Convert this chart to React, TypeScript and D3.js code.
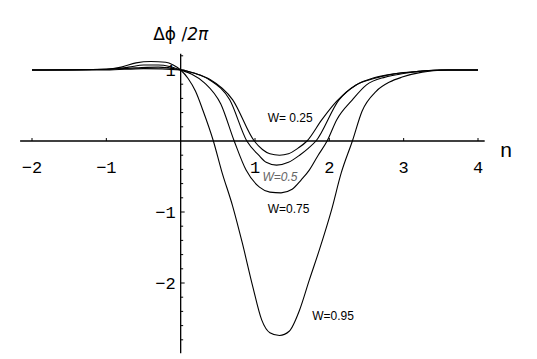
import React from "react";
import * as d3 from "d3";

// phase shift curves, one per W value
const nW025 = [-2, -1, -0.5, 0, 0.2, 0.39, 0.7, 0.99, 1.1, 1.2, 1.33, 1.45, 1.58, 1.7, 1.9, 2.1, 2.36, 2.6, 2.9, 3.2, 3.5, 4];
const vW025 = [1, 1.0, 1.02, 1, 0.95, 0.87, 0.58, 0, -0.12, -0.18, -0.2, -0.18, -0.1, 0, 0.3, 0.56, 0.79, 0.89, 0.95, 0.98, 1, 1];

const nW05 = [-2, -1, -0.6, -0.3, 0, 0.2, 0.39, 0.66, 0.89, 1.05, 1.15, 1.29, 1.45, 1.6, 1.72, 1.82, 2.13, 2.36, 2.6, 2.9, 3.2, 3.5, 4];
const vW05 = [1, 1.01, 1.03, 1.04, 1, 0.95, 0.86, 0.58, 0, -0.2, -0.3, -0.34, -0.3, -0.2, -0.1, 0, 0.58, 0.79, 0.88, 0.95, 0.98, 1, 1];

const nW075 = [-2, -1, -0.7, -0.5, -0.3, -0.15, 0, 0.15, 0.32, 0.54, 0.72, 0.88, 1.06, 1.2, 1.35, 1.5, 1.62, 1.73, 1.85, 1.97, 2.1, 2.31, 2.5, 2.75, 3.0, 3.3, 3.6, 4];
const vW075 = [1, 1.01, 1.04, 1.07, 1.07, 1.05, 1.0, 0.94, 0.82, 0.52, 0, -0.41, -0.65, -0.72, -0.73, -0.68, -0.55, -0.41, -0.2, 0, 0.3, 0.58, 0.79, 0.9, 0.95, 0.99, 1, 1];

const nW095 = [-2, -1.5, -1, -0.8, -0.6, -0.4, -0.2, -0.1, 0, 0.1, 0.2, 0.3, 0.44, 0.55, 0.7, 0.83, 0.97, 1.09, 1.2, 1.33, 1.46, 1.6, 1.73, 1.87, 2.03, 2.16, 2.31, 2.44, 2.63, 2.81, 2.98, 3.25, 3.4, 3.6, 4];
const vW095 = [1, 1, 1.01, 1.04, 1.1, 1.12, 1.11, 1.07, 1.0, 0.88, 0.7, 0.43, 0, -0.42, -0.92, -1.44, -2.05, -2.52, -2.7, -2.74, -2.68, -2.38, -1.96, -1.52, -0.97, -0.45, 0, 0.42, 0.7, 0.83, 0.9, 0.97, 0.99, 1, 1];

const curveNames = ["W= 0.25", "W=0.5", "W=0.75", "W=0.95"];
// label anchors in data units (n, value)
const labelN = [1.17, 1.1, 1.17, 1.77];
const labelV = [0.27, -0.56, -1.01, -2.52];

const xTicks = [-2, -1, 1, 2, 3, 4];
const xTickLabels = ["−2", "−1", "1", "2", "3", "4"];
const yTicks = [1, -1, -2];
const yTickLabels = ["1", "−1", "−2"];

const W = 537;
const H = 359;

export default function App() {
  const x = d3.scaleLinear().domain([-2, 4]).range([32, 478]);
  const y = d3.scaleLinear().domain([-2, 1]).range([283, 70]);

  const series = [
    [nW025, vW025],
    [nW05, vW05],
    [nW075, vW075],
    [nW095, vW095],
  ];

  const line = d3
    .line<[number, number]>()
    .x((d) => x(d[0]))
    .y((d) => y(d[1]))
    .curve(d3.curveMonotoneX);

  const minor = d3.range(-14, 7).map((i) => i * 0.2).filter((v) => Math.abs(v - Math.round(v)) > 0.01);
  const x0 = x(0);
  const y0 = y(0);
  const mono = "'Liberation Mono', 'DejaVu Sans Mono', monospace";
  const sans = "'Liberation Sans', Arial, sans-serif";

  return (
    <div style={{ position: "fixed", left: 0, top: 0, background: "#fff" }}>
      <svg width={W} height={H} style={{ display: "block" }}>
        <rect width={W} height={H} fill="#fff" />
        {/* axes */}
        <line x1={x(-2.16)} x2={x(4.09)} y1={y0} y2={y0} stroke="#000" strokeWidth={1.3} />
        <line x1={x0} x2={x0} y1={y(1.23)} y2={y(-2.99)} stroke="#000" strokeWidth={1.3} />
        {xTicks.map((t, i) => (
          <g key={"xt" + t}>
            <line x1={x(t)} x2={x(t)} y1={y0} y2={y0 - 3} stroke="#000" />
            <text x={x(t)} y={y0 + 32} textAnchor="middle" fontFamily={mono} fontSize={17}>
              {xTickLabels[i]}
            </text>
          </g>
        ))}
        {yTicks.map((t, i) => (
          <g key={"yt" + t}>
            <line x1={x0} x2={x0 + 4} y1={y(t)} y2={y(t)} stroke="#000" />
            <text x={x0 - 5} y={y(t) + 6} textAnchor="end" fontFamily={mono} fontSize={17}>
              {yTickLabels[i]}
            </text>
          </g>
        ))}
        {minor.map((t) => (
          <line key={"ym" + t} x1={x0} x2={x0 + 2.5} y1={y(t)} y2={y(t)} stroke="#000" />
        ))}
        {/* axis titles */}
        <text x={x0} y={40} textAnchor="middle" fontFamily="'DejaVu Sans', sans-serif" fontSize={17}>
          Δϕ /<tspan fontStyle="italic">2π</tspan>
        </text>
        <text x={x(4.3)} y={y0 + 16} fontFamily={sans} fontSize={21}>
          n
        </text>
        {/* curves */}
        {series.map(([ns, vs], k) => (
          <path
            key={"c" + k}
            d={line(ns.map((n, i) => [n, vs[i]] as [number, number])) || ""}
            fill="none"
            stroke="#000"
            strokeWidth={1.1}
          />
        ))}
        {curveNames.map((name, k) => (
          <text
            key={"l" + k}
            x={x(labelN[k])}
            y={y(labelV[k])}
            fontFamily={sans}
            fontSize={12}
            fontStyle={k === 1 ? "italic" : "normal"}
            fill={k === 1 ? "#666" : "#000"}
          >
            {name}
          </text>
        ))}
      </svg>
    </div>
  );
}
